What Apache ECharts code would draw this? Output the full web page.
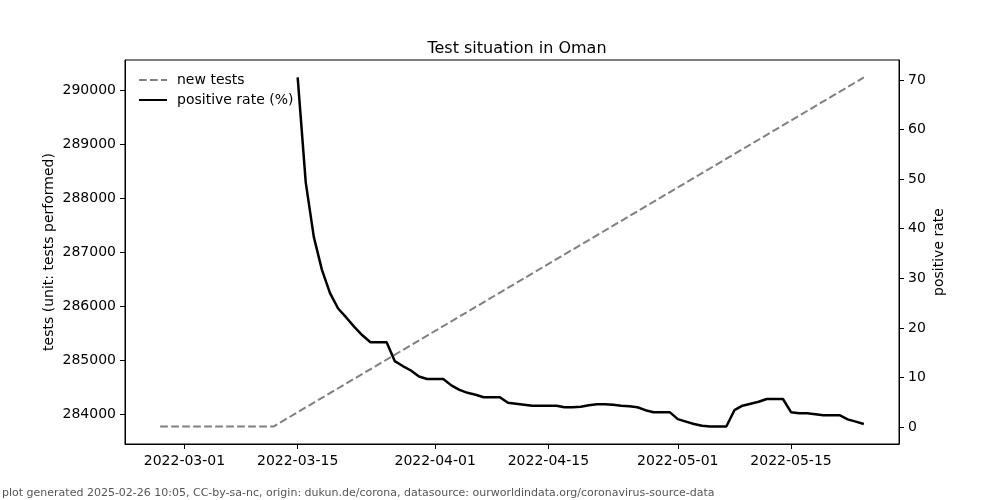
<!DOCTYPE html>
<html>
<head>
<meta charset="utf-8">
<script src="https://cdn.jsdelivr.net/npm/echarts@6/dist/echarts.min.js"></script>
<style>html,body{margin:0;padding:0;background:#fff}#c{width:1000px;height:500px}</style>
</head>
<body>
<div id="c"></div>
<script>
// ---- data ----
const testDates = ['2022-02-26', '2022-03-12', '2022-05-24'];
const testValues = [283769, 283769, 290232];

const rateDates = [
  '2022-03-15','2022-03-16','2022-03-17','2022-03-18','2022-03-19','2022-03-20','2022-03-21','2022-03-22','2022-03-23','2022-03-24',
  '2022-03-25','2022-03-26','2022-03-27','2022-03-28','2022-03-29','2022-03-30','2022-03-31',
  '2022-04-01','2022-04-02','2022-04-03','2022-04-04','2022-04-05','2022-04-06','2022-04-07','2022-04-08','2022-04-09','2022-04-10',
  '2022-04-11','2022-04-12','2022-04-13','2022-04-14','2022-04-15','2022-04-16','2022-04-17','2022-04-18','2022-04-19','2022-04-20',
  '2022-04-21','2022-04-22','2022-04-23','2022-04-24','2022-04-25','2022-04-26','2022-04-27','2022-04-28','2022-04-29','2022-04-30',
  '2022-05-01','2022-05-02','2022-05-03','2022-05-04','2022-05-05','2022-05-06','2022-05-07','2022-05-08','2022-05-09','2022-05-10',
  '2022-05-11','2022-05-12','2022-05-13','2022-05-14','2022-05-15','2022-05-16','2022-05-17','2022-05-18','2022-05-19','2022-05-20',
  '2022-05-21','2022-05-22','2022-05-23','2022-05-24'
];
const rateValues = [
  70.5, 49.3, 38.3, 31.7, 27.0, 23.9, 22.1, 20.2, 18.5, 17.1,
  17.1, 17.1, 13.3, 12.3, 11.4, 10.2, 9.7,
  9.7, 9.7, 8.4, 7.5, 6.9, 6.5, 6.0, 6.0, 6.0, 4.9,
  4.7, 4.5, 4.3, 4.3, 4.3, 4.3, 4.0, 4.0, 4.1, 4.4,
  4.6, 4.6, 4.5, 4.3, 4.2, 4.0, 3.4, 3.0, 3.0, 3.0,
  1.6, 1.1, 0.6, 0.25, 0.1, 0.1, 0.1, 3.4, 4.3, 4.7,
  5.1, 5.65, 5.65, 5.65, 3.0, 2.8, 2.8, 2.6, 2.4, 2.4,
  2.4, 1.55, 1.1, 0.6
];

const xTickLabels = ['2022-03-01','2022-03-15','2022-04-01','2022-04-15','2022-05-01','2022-05-15'];
const leftTicks = [284000, 285000, 286000, 287000, 288000, 289000, 290000];
const rightTicks = [0, 10, 20, 30, 40, 50, 60, 70];

// ---- helpers ----
const ts = s => Date.parse(s + 'T00:00:00Z');
const fmt = v => new Date(v).toISOString().slice(0, 10);
const FONT = 'DejaVu Sans';

// matplotlib-like 5% margins
function pad(lo, hi) { const d = hi - lo; return [lo - 0.05 * d, hi + 0.05 * d]; }
const xr = pad(ts(testDates[0]), ts(testDates[testDates.length - 1]));
const ylr = pad(Math.min(...testValues), Math.max(...testValues));
const yrr = pad(Math.min(...rateValues), Math.max(...rateValues));

const option = {
  animation: false,
  backgroundColor: '#fff',
  textStyle: { fontFamily: FONT },
  title: [
    { text: 'Test situation in Oman', left: 512, top: 36, textAlign: 'center',
      textStyle: { fontFamily: FONT, fontSize: 16, fontWeight: 'normal', color: '#000' } },
    { text: 'plot generated 2025-02-26 10:05, CC-by-sa-nc, origin: dukun.de/corona, datasource: ourworldindata.org/coronavirus-source-data',
      left: 2, top: 488, padding: 0, textStyle: { fontFamily: FONT, fontSize: 11, fontWeight: 'normal', color: '#555' } }
  ],
  legend: {
    orient: 'vertical', left: 133, top: 68, itemWidth: 28, itemHeight: 14, itemGap: 6,
    itemStyle: { opacity: 0 },
    textStyle: { fontFamily: FONT, fontSize: 14, color: '#000', padding: [0, 0, 0, 5] },
    data: ['new tests', 'positive rate (%)']
  },
  grid: { left: 125, right: 101, top: 60, bottom: 56, show: true, borderColor: '#000', borderWidth: 1, containLabel: false },
  xAxis: {
    type: 'value', min: xr[0], max: xr[1],
    splitLine: { show: false },
    axisLine: { onZero: false, lineStyle: { color: '#000', width: 1 } },
    axisTick: { length: 5, lineStyle: { color: '#000' }, customValues: xTickLabels.map(ts) },
    axisLabel: { color: '#000', fontSize: 14, margin: 10, fontFamily: FONT,
      customValues: xTickLabels.map(ts), formatter: v => fmt(v) }
  },
  yAxis: [
    { type: 'value', min: ylr[0], max: ylr[1], position: 'left',
      name: 'tests (unit: tests performed)', nameLocation: 'middle', nameGap: 69, nameMoveOverlap: false,
      nameTextStyle: { fontFamily: FONT, fontSize: 14, color: '#000' },
      splitLine: { show: false },
      axisLine: { show: true, onZero: false, lineStyle: { color: '#000', width: 1 } },
      axisTick: { show: true, length: 5, lineStyle: { color: '#000' }, customValues: leftTicks },
      axisLabel: { color: '#000', fontSize: 14, margin: 9, fontFamily: FONT, customValues: leftTicks,
        formatter: v => String(Math.round(v)) } },
    { type: 'value', min: yrr[0], max: yrr[1], position: 'right',
      name: 'positive rate', nameLocation: 'middle', nameGap: 33, nameMoveOverlap: false,
      nameTextStyle: { fontFamily: FONT, fontSize: 14, color: '#000' },
      splitLine: { show: false },
      axisLine: { show: true, onZero: false, lineStyle: { color: '#000', width: 1 } },
      axisTick: { show: true, length: 5, lineStyle: { color: '#000' }, customValues: rightTicks },
      axisLabel: { color: '#000', fontSize: 14, margin: 9, fontFamily: FONT, customValues: rightTicks,
        formatter: v => String(Math.round(v)) } }
  ],
  series: [
    { name: 'new tests', type: 'line', yAxisIndex: 0, symbol: 'none', showSymbol: false,
      data: testDates.map((d, i) => [ts(d), testValues[i]]),
      lineStyle: { color: '#808080', width: 2, type: [7.7, 3.3] },
      itemStyle: { color: '#808080' } },
    { name: 'positive rate (%)', type: 'line', yAxisIndex: 1, symbol: 'none', showSymbol: false,
      data: rateDates.map((d, i) => [ts(d), rateValues[i]]),
      lineStyle: { color: '#000', width: 2.5 },
      itemStyle: { color: '#000' } }
  ]
};
const chart = echarts.init(document.getElementById('c'), null, { renderer: 'canvas' });
chart.setOption(option);
</script>
</body>
</html>
